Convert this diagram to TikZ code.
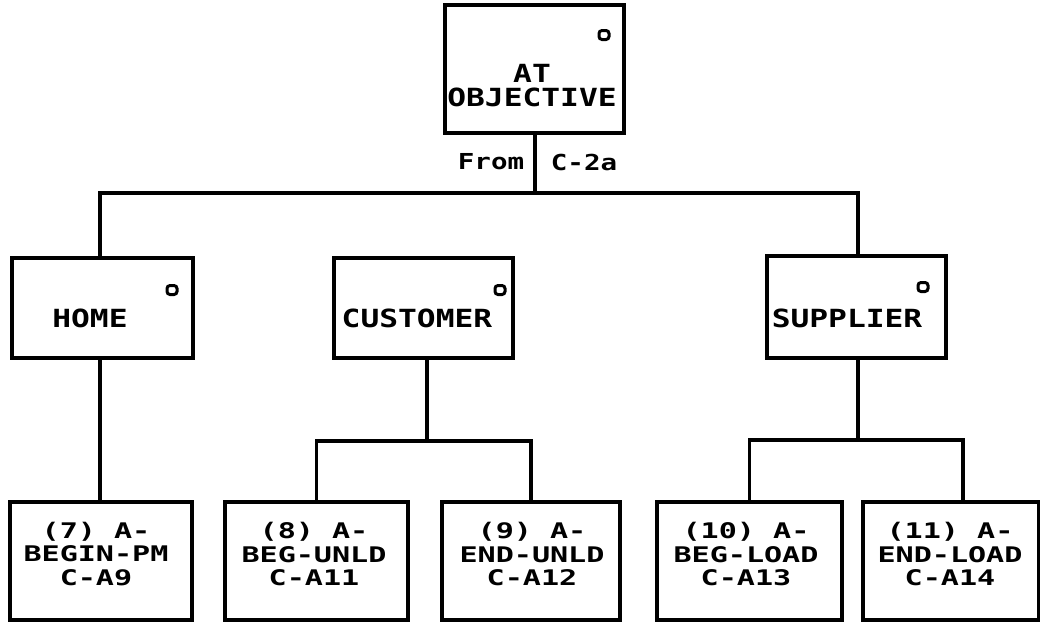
\documentclass[tikz,border=0pt]{standalone}
\usepackage{fontspec}
\newfontfamily\fa[FakeStretch=1.25]{DejaVu Sans Mono}
\newfontfamily\fb[FakeStretch=1.4]{DejaVu Sans Mono}
\begin{document}
\begin{tikzpicture}[x=1pt,y=-1pt,
  box/.style={draw, line width=3.4pt, inner sep=0pt, rectangle},
  conn/.style={line width=3.4pt, line cap=rect},
  big/.style={font=\fa\bfseries\fontsize{25}{24}\selectfont, inner sep=0pt, align=center},
  small/.style={font=\fb\bfseries\fontsize{21.5}{23.5}\selectfont, inner sep=0pt, align=center},
  mid/.style={font=\fa\bfseries\fontsize{22}{22}\selectfont, inner sep=0pt},
  dotmark/.style={draw, line width=3pt, rounded corners=3pt, minimum width=10pt, minimum height=9pt, inner sep=0pt}]
\useasboundingbox (0,0) rectangle (1040,624);
\fill[white] (0,0) rectangle (1040,624);
% boxes
\node[box, minimum width=179pt, minimum height=128pt] (top) at (534.5,69) {};
\node[box, minimum width=181pt, minimum height=100pt] (home) at (102.5,308) {};
\node[box, minimum width=179pt, minimum height=100pt] (cust) at (423.5,308) {};
\node[box, minimum width=179pt, minimum height=102pt] (supp) at (856.5,307) {};
\node[box, minimum width=182pt, minimum height=118pt] (b7) at (101,561) {};
\node[box, minimum width=183pt, minimum height=118pt] (b8) at (316.5,561) {};
\node[box, minimum width=178pt, minimum height=118pt] (b9) at (531,561) {};
\node[box, minimum width=185pt, minimum height=118pt] (b10) at (749.5,561) {};
\node[box, minimum width=176pt, minimum height=118pt] (b11) at (951,561) {};
% texts
\node[big] (ttop) at (532,86) {AT\\OBJECTIVE};
\node[big] (thome) at (90,318) {HOME};
\node[big] (tcust) at (417,318) {CUSTOMER};
\node[big] (tsupp) at (847,318) {SUPPLIER};
\node[mid] (tfrom) at (491,162) {From};
\node[mid] (tc2a) at (584,162) {C-2a};
\node[small] (t7) at (96,554) {(7) A-\\BEGIN-PM\\C-A9};
\node[small] (t8) at (314,554) {(8) A-\\BEG-UNLD\\C-A11};
\node[small] (t9) at (532,554) {(9) A-\\END-UNLD\\C-A12};
\node[small] (t10) at (746,554) {(10) A-\\BEG-LOAD\\C-A13};
\node[small] (t11) at (950,554) {(11) A-\\END-LOAD\\C-A14};
% small marks
\node[dotmark] (m0) at (604,35) {};
\node[dotmark] (m1) at (172,290) {};
\node[dotmark] (m2) at (500,290) {};
\node[dotmark] (m3) at (923,287) {};
% junction coordinates
\coordinate (j0) at (535,193);
\coordinate (jh) at (100,193);
\coordinate (j1) at (427,441);
\coordinate (j2) at (858,440);
\coordinate (d11) at (963,502);
% connectors
\draw[conn] (top.south -| j0) -- (j0);
\draw[conn] (home.north -| jh) -- (jh) -| (supp.north -| j2);
\draw[conn] (cust.north -| j1) -- (cust.north -| j1 |- j0);
\draw[conn] (home.south -| jh) -- (b7.north -| jh);
\draw[conn] (cust.south -| j1) -- (j1);
\draw[conn] (b8.north) |- (j1) -| (b9.north);
\draw[conn] (supp.south -| j2) -- (j2);
\draw[conn] (b10.north) |- (j2) -| (d11);
\end{tikzpicture}
\end{document}
